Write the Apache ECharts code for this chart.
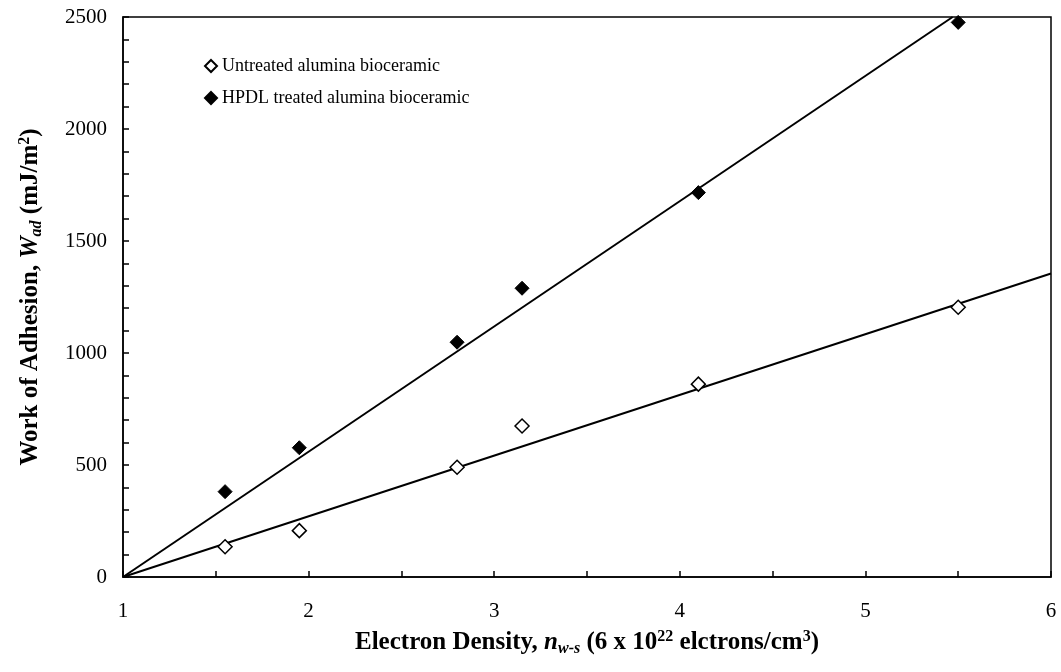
<!DOCTYPE html>
<html>
<head>
<meta charset="utf-8">
<script src="https://cdn.jsdelivr.net/npm/echarts@6/dist/echarts.min.js"></script>
<style>
    html, body {
        margin: 0;
        padding: 0;
        background: #fff;
    }

    .chart {
        width: 1061px;
        height: 672px;
    }
</style>
</head>
<body>
<div id="chart" class="chart"></div>
<script>
// 数据
const electronDensity = [1.55, 1.95, 2.8, 3.15, 4.1, 5.5]
const untreated = [135, 207, 490, 674, 861, 1204]
const hpdlTreated = [381, 577, 1048, 1289, 1716, 2476]
// 拟合直线 (两端点)
const untreatedFitX = [1, 6]
const untreatedFitY = [0, 1355]
const hpdlFitX = [1, 5.47]
const hpdlFitY = [0, 2500]
const xTicks = [1, 2, 3, 4, 5, 6]
const yTicks = [0, 500, 1000, 1500, 2000, 2500]

const seriesNames = ['Untreated alumina bioceramic', 'HPDL treated alumina bioceramic']

function pairs(xs, ys) {
    return xs.map((x, i) => [x, ys[i]])
}

const font = '"Liberation Serif", "Times New Roman", serif'

const titleRich = {
    b: { fontFamily: font, fontWeight: 'bold', fontSize: 25, color: '#000' },
    bi: { fontFamily: font, fontWeight: 'bold', fontStyle: 'italic', fontSize: 25, color: '#000' },
    sub: { fontFamily: font, fontWeight: 'bold', fontStyle: 'italic', fontSize: 16, color: '#000', padding: [12, 0, 0, 0] },
    sup: { fontFamily: font, fontWeight: 'bold', fontSize: 16, color: '#000', padding: [0, 0, 12, 0] }
}

let chart = echarts.init(document.getElementById('chart'))
chart.setOption({
    animation: false,
    textStyle: { fontFamily: font, color: '#000' },
    grid: {
        left: 123,
        right: 10,
        top: 17,
        bottom: 95,
        show: true,
        borderColor: '#000',
        borderWidth: 1.5
    },
    legend: {
        data: seriesNames,
        orient: 'vertical',
        left: 199,
        top: 52,
        itemWidth: 12,
        itemHeight: 12,
        itemGap: 14,
        textStyle: { fontFamily: font, fontSize: 18, color: '#000' }
    },
    xAxis: {
        type: 'value',
        min: xTicks[0],
        max: xTicks[xTicks.length - 1],
        interval: 1,
        splitLine: { show: false },
        axisLine: { lineStyle: { color: '#000', width: 1.5 } },
        axisTick: { inside: true, length: 6, lineStyle: { color: '#000', width: 1.5 } },
        minorTick: { show: true, splitNumber: 2, length: 6, lineStyle: { color: '#000', width: 1.5 } },
        axisLabel: { margin: 24, fontSize: 21, color: '#000', fontFamily: font },
        name: '{b|Electron Density, }{bi|n}{sub|w-s}{b| (6 x 10}{sup|22}{b| elctrons/cm}{sup|3}{b|)}',
        nameLocation: 'middle',
        nameGap: 52,
        nameTextStyle: { rich: titleRich }
    },
    yAxis: {
        type: 'value',
        min: yTicks[0],
        max: yTicks[yTicks.length - 1],
        interval: 500,
        splitLine: { show: false },
        axisLine: { lineStyle: { color: '#000', width: 1.5 } },
        axisTick: { inside: true, length: 6, lineStyle: { color: '#000', width: 1.5 } },
        minorTick: { show: true, splitNumber: 5, length: 6, lineStyle: { color: '#000', width: 1.5 } },
        axisLabel: {
            margin: 16,
            fontSize: 21,
            color: '#000',
            fontFamily: font,
            formatter: (v) => String(v)
        },
        name: '{b|Work of Adhesion, }{bi|W}{sub|ad}{b| (mJ/m}{sup|2}{b|)}',
        nameLocation: 'middle',
        nameGap: 78,
        nameRotate: 90,
        nameTextStyle: { rich: titleRich }
    },
    series: [
        {
            name: 'fit-untreated',
            type: 'line',
            data: pairs(untreatedFitX, untreatedFitY),
            symbol: 'none',
            lineStyle: { color: '#000', width: 2 },
            z: 1
        },
        {
            name: 'fit-hpdl',
            type: 'line',
            data: pairs(hpdlFitX, hpdlFitY),
            symbol: 'none',
            lineStyle: { color: '#000', width: 2 },
            z: 1
        },
        {
            name: seriesNames[0],
            type: 'scatter',
            data: pairs(electronDensity, untreated),
            symbol: 'diamond',
            symbolSize: 14,
            itemStyle: { color: '#fff', borderColor: '#000', borderWidth: 1.5, opacity: 1 },
            z: 3
        },
        {
            name: seriesNames[1],
            type: 'scatter',
            data: pairs(electronDensity, hpdlTreated),
            symbol: 'diamond',
            symbolSize: 14,
            itemStyle: { color: '#000', borderColor: '#000', borderWidth: 1, opacity: 1 },
            z: 3
        }
    ]
})
</script>
</body>
</html>
